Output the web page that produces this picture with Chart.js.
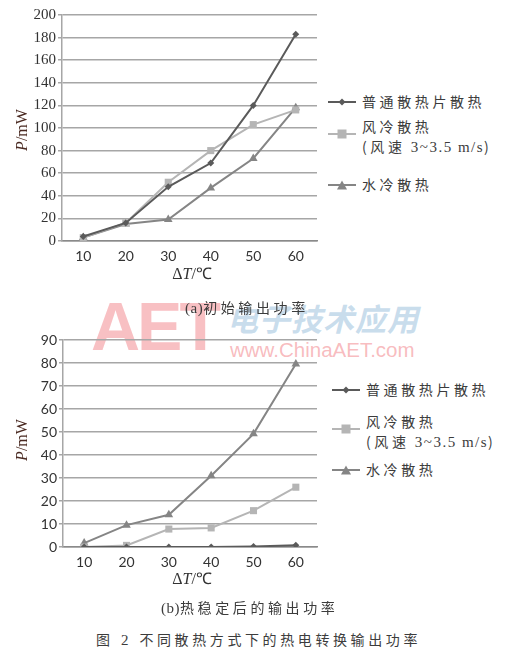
<!DOCTYPE html>
<html><head><meta charset="utf-8">
<script src="https://cdn.jsdelivr.net/npm/chart.js@4/dist/chart.umd.min.js"></script>
<style>
html,body{margin:0;padding:0;background:#fff;}
body{width:510px;height:659px;position:relative;overflow:hidden;font-family:"Noto Sans CJK SC",sans-serif;color:#3c3c3c;}
.abs{position:absolute;white-space:nowrap;}
.cjk{font-family:"Noto Sans CJK SC",sans-serif;font-size:14px;letter-spacing:3.6px;line-height:1;}
.ser{font-family:"Liberation Serif",serif;}
.ytitle{transform:translate(-50%,-50%) rotate(-90deg);font-size:16px;color:#4a2a22;}
.xtitle{transform:translate(-50%,-50%);font-size:16px;color:#333;}
.leg svg{position:absolute;}
</style></head>
<body>
<!-- watermark -->
<div class="abs" style="left:91px;top:292px;font-family:'Liberation Sans',sans-serif;font-weight:bold;font-size:68px;letter-spacing:-3px;color:rgba(244,150,155,0.6);line-height:1;">AET</div>
<div class="abs" style="left:227px;top:302px;font-family:'Noto Sans CJK SC',sans-serif;font-weight:bold;font-size:31px;letter-spacing:1px;color:rgba(165,198,224,0.6);line-height:1;font-style:italic;">电子技术应用</div>
<div class="abs" style="left:230px;top:340px;font-family:'Liberation Sans',sans-serif;font-size:20.5px;color:rgba(244,150,155,0.65);line-height:1;">www.ChinaAET.com</div>

<div class="abs" style="left:0;top:0;width:322px;height:290px;"><canvas id="ca" width="322" height="290"></canvas></div>
<div class="abs" style="left:0;top:320px;width:322px;height:275px;"><canvas id="cb" width="322" height="275"></canvas></div>

<div class="abs ser ytitle" style="left:22px;top:130px;"><i>P</i>/mW</div>
<div class="abs ser xtitle" style="left:192px;top:273px;">Δ<i>T</i>/℃</div>
<div class="abs ser ytitle" style="left:22px;top:440px;"><i>P</i>/mW</div>
<div class="abs ser xtitle" style="left:192px;top:578px;">Δ<i>T</i>/℃</div>

<div class="abs cjk" style="left:185px;top:300px;"><span class="ser" style="letter-spacing:0.5px;font-size:15px;">(a)</span>初始输出功率</div>
<div class="abs cjk" style="left:161px;top:600px;"><span class="ser" style="letter-spacing:0.5px;font-size:15px;">(b)</span>热稳定后的输出功率</div>
<div class="abs cjk" style="left:96px;top:632px;">图<span class="ser" style="font-size:15px;"> 2 </span> 不同散热方式下的热电转换输出功率</div>

<div id="legA"></div>
<div id="legB"></div>

<script>
// ---- data ----
const categories = ["10", "20", "30", "40", "50", "60"];
const seriesNames = ["普通散热片散热", "风冷散热", "水冷散热"];
// (a) 初始输出功率 (mW)
const aNormal = [4, 16, 48, 69, 120, 183];
const aAir    = [3, 16, 52, 80, 103, 116];
const aWater  = [3, 15, 19, 47, 73, 118];
// (b) 热稳定后的输出功率 (mW)
const bNormal = [0, 0, 0, 0, 0.2, 0.8];
const bAir    = [0, 0.7, 7.8, 8.3, 15.8, 26];
const bWater  = [1.7, 9.5, 14, 31, 49.2, 79.6];
const aTicks = [0, 20, 40, 60, 80, 100, 120, 140, 160, 180, 200];
const bTicks = [0, 10, 20, 30, 40, 50, 60, 70, 80, 90];

const styles = [
  {color:"#5a5a5a", pointStyle:"rectRot", radius:3.5},
  {color:"#b5b5b5", pointStyle:"rect", radius:5},
  {color:"#858585", pointStyle:"triangle", radius:5}
];

function ds(values, i){
  const s = styles[i];
  return {label:seriesNames[i], data:values, borderColor:s.color, backgroundColor:s.color,
    borderWidth:2, pointStyle:s.pointStyle, pointRadius:s.radius, pointBorderWidth:0,
    pointBackgroundColor:s.color, tension:0, order:i};
}

function makeChart(id, sets, max, ticksArr, yW, xH, padTop, yFont){
  return new Chart(document.getElementById(id), {
    type:"line",
    data:{labels:categories, datasets:sets},
    options:{
      responsive:false, animation:false, devicePixelRatio:1,
      layout:{padding:{top:padTop, right:2, left:0, bottom:0}},
      plugins:{legend:{display:false}, tooltip:{enabled:false}},
      scales:{
        x:{
          offset:true,
          grid:{display:false, drawTicks:false},
          border:{display:true, color:"#8a8a8a", width:1.5},
          ticks:{padding:7, color:"#333", font:{family:"Lato", size:14}},
          afterFit:(s)=>{s.height = xH;}
        },
        y:{
          min:0, max:max,
          afterBuildTicks:(s)=>{s.ticks = ticksArr.map(v=>({value:v}));},
          grid:{color:"#a6a6a6", lineWidth:1.5, tickLength:4, drawTicks:true},
          border:{display:true, color:"#a6a6a6", width:1.5},
          ticks:{padding:2, color:"#333", font:yFont},
          afterFit:(s)=>{s.width = yW;}
        }
      }
    }
  });
}

makeChart("ca", [ds(aNormal,0), ds(aAir,1), ds(aWater,2)], 200, aTicks, 62, 49, 15,
  {family:"Liberation Serif", size:15});
makeChart("cb", [ds(bNormal,0), ds(bAir,1), ds(bWater,2)], 90, bTicks, 63, 48, 20,
  {family:"Lato", size:14});

// ---- HTML legends ----
function markerSvg(i){
  const s = styles[i];
  let m = "";
  if (s.pointStyle === "rectRot") m = `<polygon points="14,1.5 17.5,5 14,8.5 10.5,5" fill="${s.color}"/>`;
  else if (s.pointStyle === "rect") m = `<rect x="9.5" y="0.5" width="9" height="9" fill="${s.color}"/>`;
  else m = `<polygon points="14,0.5 19,9.5 9,9.5" fill="${s.color}"/>`;
  return `<svg width="28" height="10" viewBox="0 0 28 10"><line x1="0" y1="5" x2="28" y2="5" stroke="${s.color}" stroke-width="2"/>${m}</svg>`;
}
function legend(el, x, ys){
  let h = "";
  h += `<div class="abs leg" style="left:${x}px;top:${ys[0]-5}px;">${markerSvg(0)}</div>`;
  h += `<div class="abs cjk" style="left:${x+34}px;top:${ys[0]-8}px;">${seriesNames[0]}</div>`;
  h += `<div class="abs leg" style="left:${x}px;top:${ys[1]-5}px;">${markerSvg(1)}</div>`;
  h += `<div class="abs cjk" style="left:${x+34}px;top:${ys[1]-15}px;">${seriesNames[1]}</div>`;
  h += `<div class="abs cjk" style="left:${x+34}px;top:${ys[1]+5}px;">(风速<span class="ser" style="letter-spacing:1.5px;font-size:15px;"> 3~3.5 m/s</span>)</div>`;
  h += `<div class="abs leg" style="left:${x}px;top:${ys[2]-5}px;">${markerSvg(2)}</div>`;
  h += `<div class="abs cjk" style="left:${x+34}px;top:${ys[2]-8}px;">${seriesNames[2]}</div>`;
  document.getElementById(el).innerHTML = h;
}
legend("legA", 328, [102, 134, 185]);
legend("legB", 332, [390, 429, 470]);
</script>
</body></html>
